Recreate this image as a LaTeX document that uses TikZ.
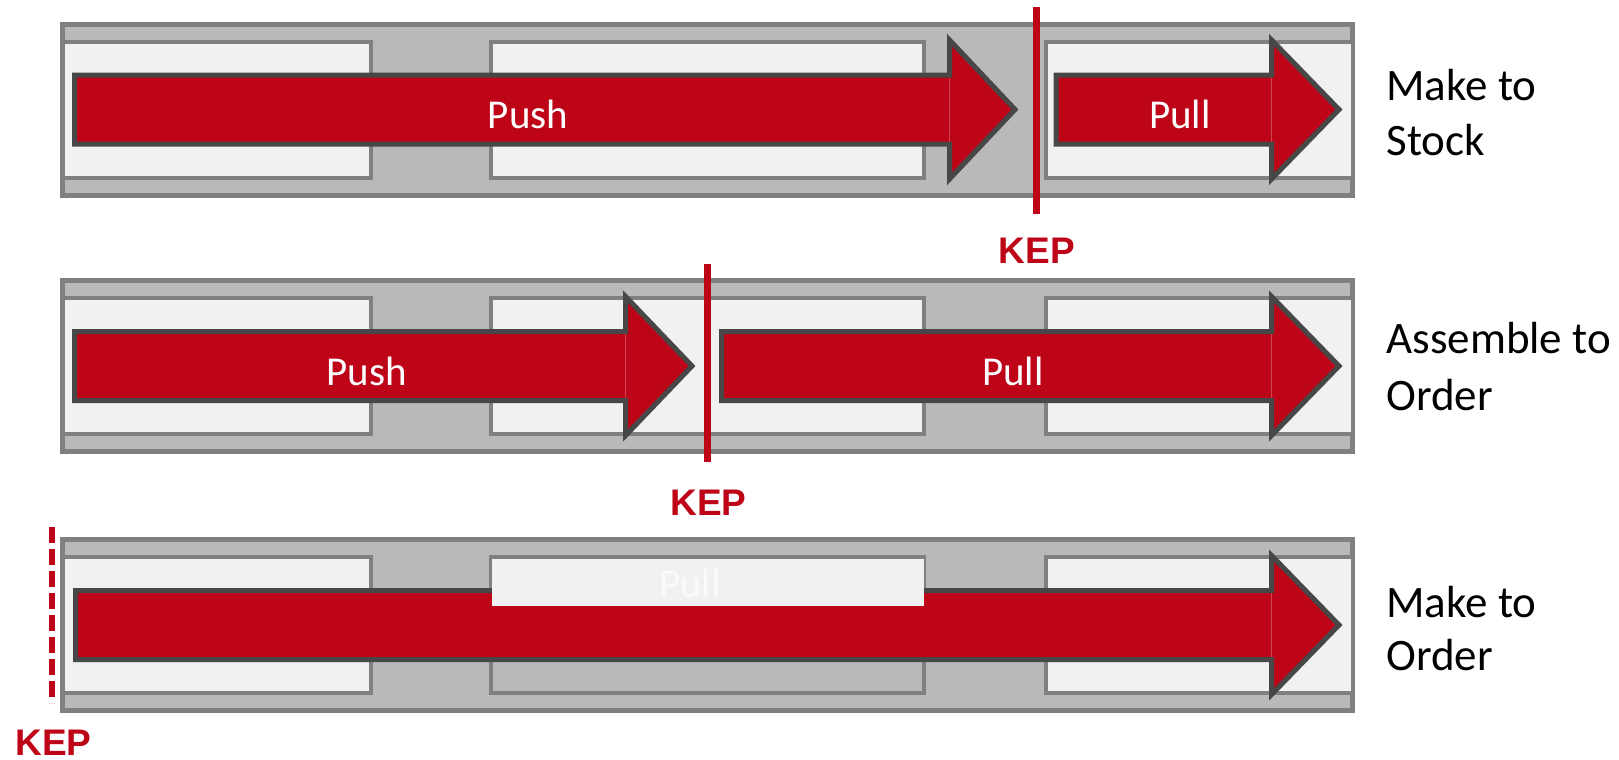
\documentclass[tikz,border=0pt]{standalone}
\usepackage{fontspec}
\setmainfont{Carlito}
\newfontfamily\kepfont{Liberation Sans}
\definecolor{kred}{HTML}{BE0518}
\definecolor{abord}{HTML}{474747}
\definecolor{obg}{HTML}{B9B9B9}
\definecolor{obord}{HTML}{808080}
\definecolor{ibg}{HTML}{F1F1F1}
\definecolor{ghost}{HTML}{FAFAFA}
\tikzset{
  outerbox/.style={fill=obg, draw=obord, line width=2.5pt},
  innerbox/.style={fill=ibg, draw=obord, line width=2pt},
  hollowbox/.style={draw=obord, line width=2pt},
  overlaybox/.style={fill=ibg, draw=none},
  bigarrow/.style={fill=kred, draw=abord, line width=2.5pt, line join=miter},
  seam/.style={draw=kred!75!white, line width=0.4pt},
  keyline/.style={draw=kred, line width=3.3pt},
  keydash/.style={draw=kred, line width=3pt, dash pattern=on 8pt off 3pt},
  keptext/.style={text=kred, font=\kepfont\bfseries\fontsize{18.5}{20}\selectfont, inner sep=0pt, anchor=base},
  arrowtext/.style={text=white, font=\fontsize{20.5}{24}\selectfont, inner sep=0pt, anchor=base},
  rowtext/.style={text=black, font=\fontsize{22.5}{27}\selectfont, inner sep=0pt, anchor=base west},
}
\newcommand\mkarrow[4]{%
  \draw[bigarrow] (#1,#4-34.5) -- (#2,#4-34.5) -- (#2,#4-69.5) -- (#3,#4) -- (#2,#4+69.5) -- (#2,#4+34.5) -- (#1,#4+34.5) -- cycle;
  \draw[seam] (#2,#4-32) -- (#2,#4+32);
}
\begin{document}
\begin{tikzpicture}[x=0.5pt,y=-0.5pt]
\useasboundingbox (0,0) rectangle (1619,760);

% row backgrounds
\foreach \yc in {109.5,366,625}{
  \draw[outerbox] (62.5,\yc-85.5) rectangle (1352.5,\yc+85.5);
  \draw[innerbox] (62.5,\yc-68) rectangle (370.5,\yc+68);
  \draw[innerbox] (1045.5,\yc-68) rectangle (1352.5,\yc+68);
}
\draw[innerbox] (491,41.5) rectangle (924,177.5);
\draw[innerbox] (491,298) rectangle (924,434);
\draw[hollowbox] (491,557) rectangle (924,693);

% arrows
\mkarrow{74.5}{949.5}{1015}{109.5}
\mkarrow{1056}{1271.5}{1339}{109.5}
\mkarrow{74.5}{625.5}{692}{366}
\mkarrow{721.5}{1271.5}{1339}{366}
\mkarrow{75.5}{1271.5}{1339}{625}

% overlay in row 3
\fill[overlaybox] (491.5,558.5) rectangle (923.5,606);

% KEP lines
\coordinate (k1top) at (1036.5,7);
\coordinate (k1bot) at (1036.5,214);
\coordinate (k2top) at (707.5,264);
\coordinate (k2bot) at (707.5,462);
\coordinate (k3top) at (52,527);
\coordinate (k3bot) at (52,703);
\draw[keyline] (k1top) -- (k1bot);
\draw[keyline] (k2top) -- (k2bot);
\draw[keydash] (k3top) -- (k3bot);

% KEP labels
\node[keptext] (kep1) at (1037,263) {KEP};
\node[keptext] (kep2) at (708.5,515) {KEP};
\node[keptext] (kep3) at (53.5,755) {KEP};

% arrow labels
\node[arrowtext] (push1) at (528,128) {Push};
\node[arrowtext] (pull1) at (1180,128) {Pull};
\node[arrowtext] (push2) at (366.5,385) {Push};
\node[arrowtext] (pull2) at (1013,385) {Pull};
\node[arrowtext, text=ghost] (pull3) at (690,597) {Pull};

% row labels
\node[rowtext] (r1a) at (1386,100) {Make to};
\node[rowtext] (r1b) at (1386,155) {Stock};
\node[rowtext] (r2a) at (1386,353) {Assemble to};
\node[rowtext] (r2b) at (1386,410) {Order};
\node[rowtext] (r3a) at (1386,617) {Make to};
\node[rowtext] (r3b) at (1386,670) {Order};
\end{tikzpicture}
\end{document}
